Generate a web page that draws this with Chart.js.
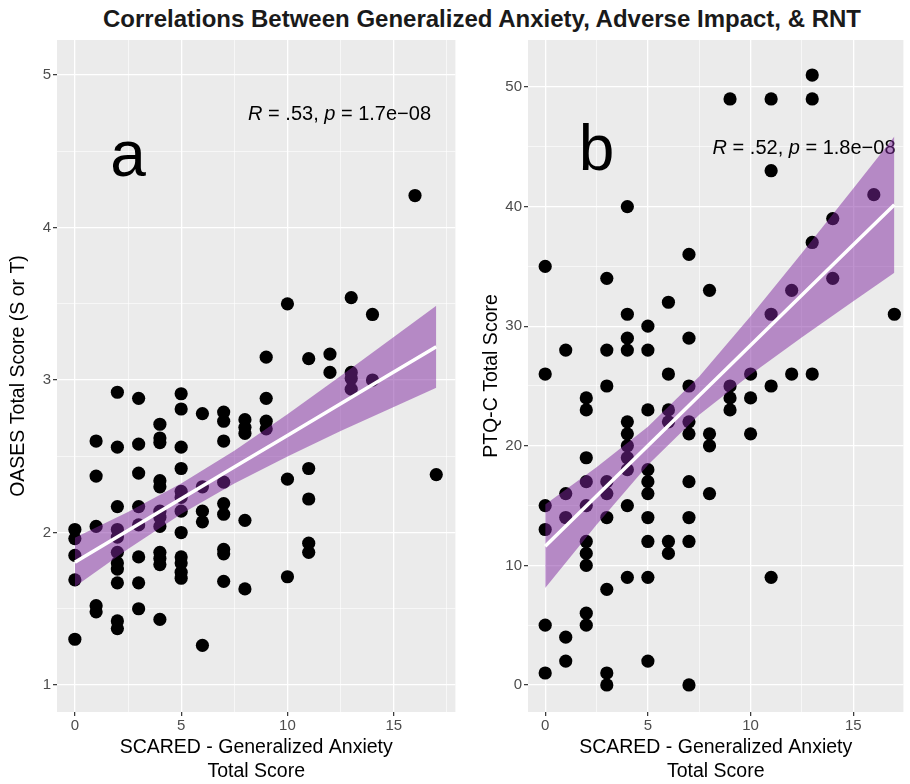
<!DOCTYPE html>
<html>
<head>
<meta charset="utf-8">
<title>Correlations Between Generalized Anxiety, Adverse Impact, & RNT</title>
<script src="https://cdn.jsdelivr.net/npm/chart.js@4.4.1/dist/chart.umd.min.js"></script>
<style>
  body {
    margin: 0;
    background: #fff;
    width: 910px;
    height: 784px;
    overflow: hidden;
    position: relative;
    font-family: "Liberation Sans", Arial, sans-serif;
  }
  #title {
    position: absolute;
    left: 0;
    top: 7px;
    width: 964px;
    text-align: center;
    font-weight: bold;
    font-size: 24px;
    line-height: 24px;
    color: #1a1a1a;
    white-space: nowrap;
  }
  .panel {
    position: absolute;
    top: 0;
    height: 784px;
  }
  #panelA { left: 0; width: 462px; }
  #panelB { left: 466px; width: 444px; }
</style>
</head>
<body>
<div id="title">Correlations Between Generalized Anxiety, Adverse Impact, &amp; RNT</div>
<div class="panel" id="panelA"><canvas id="chartA" width="462" height="784"></canvas></div>
<div class="panel" id="panelB"><canvas id="chartB" width="444" height="784"></canvas></div>

<script>
// SCARED generalized anxiety scores (x columns), shared by both panels
const anxietyScores = [0, 1, 2, 3, 4, 5, 6, 7, 8, 9, 10, 11, 12, 13, 14, 16, 17];

// Panel a: OASES total score, one list per anxiety score
const oasesScores = [
  [2.02, 1.96, 1.85, 1.69, 1.30],
  [2.60, 2.37, 2.04, 1.52, 1.48],
  [2.92, 2.56, 2.17, 2.02, 1.97, 1.87, 1.80, 1.76, 1.67, 1.42, 1.37],
  [2.88, 2.58, 2.39, 2.17, 2.05, 1.84, 1.67, 1.50],
  [2.71, 2.62, 2.59, 2.34, 2.30, 2.14, 2.10, 2.04, 1.87, 1.83, 1.79, 1.43],
  [2.91, 2.81, 2.56, 2.42, 2.27, 2.23, 2.14, 2.00, 1.84, 1.80, 1.74, 1.70],
  [2.78, 2.30, 2.14, 2.07, 1.26],
  [2.79, 2.73, 2.60, 2.33, 2.19, 2.12, 1.89, 1.86, 1.68],
  [2.74, 2.69, 2.65, 2.08, 1.63],
  [3.15, 2.88, 2.73, 2.68],
  [3.50, 2.35, 1.71],
  [3.14, 2.42, 2.22, 1.93, 1.87],
  [3.17, 3.05],
  [3.54, 3.05, 3.01, 2.94],
  [3.43, 3.00],
  [4.21],
  [2.38],
];

// Panel b: PTQ-C total score, one list per anxiety score
const ptqScores = [
  [35, 26, 15, 13, 5, 1],
  [28, 16, 14, 4, 2],
  [24, 23, 19, 17, 15, 12, 11, 10, 6, 5],
  [34, 28, 25, 17, 16, 14, 8, 1, 0],
  [40, 31, 29, 28, 22, 21, 20, 19, 18, 15, 9],
  [30, 28, 23, 18, 17, 16, 14, 12, 9, 2],
  [32, 26, 23, 22, 12, 11],
  [36, 29, 25, 22, 21, 17, 14, 12, 0],
  [33, 21, 20, 16],
  [49, 25, 24, 23],
  [26, 24, 21],
  [49, 43, 31, 25, 9],
  [33, 26],
  [51, 49, 37, 26],
  [39, 34],
  [41],
  [31],
];

// Fitted line and confidence band
const fitX = [0, 2.5, 5, 7.5, 10, 12.5, 15, 17];
const fitA = [1.805, 2.013, 2.221, 2.429, 2.637, 2.845, 3.053, 3.219];
const upperA = [1.965, 2.135, 2.321, 2.536, 2.775, 3.026, 3.282, 3.488];
const lowerA = [1.645, 1.892, 2.121, 2.322, 2.499, 2.665, 2.824, 2.95];
const fitB = [11.6, 15.8, 20.0, 24.2, 28.4, 32.6, 36.8, 40.16];
const upperB = [15.1, 18.2, 21.6, 25.8, 30.83, 36.13, 41.52, 45.86];
const lowerB = [8.1, 13.4, 18.4, 22.6, 25.97, 29.07, 32.08, 34.46];

// Axis ticks
const xMajorTicks = [0, 5, 10, 15];
const xMinorTicks = [2.5, 7.5, 12.5, 17.5];
const yMajorTicksA = [1, 2, 3, 4, 5];
const yMinorTicksA = [1.5, 2.5, 3.5, 4.5];
const yMajorTicksB = [0, 10, 20, 30, 40, 50];
const yMinorTicksB = [5, 15, 25, 35, 45];

// Stats labels
const statsA = ["R", " = .53, ", "p", " = 1.7e\u221208"];
const statsB = ["R", " = .52, ", "p", " = 1.8e\u221208"];

const FONT = "'Liberation Sans', Arial, sans-serif";
const RIBBON = "rgba(128, 40, 160, 0.5)";

// Build scatter points from the per-score lists
function buildPoints(values) {
  const pts = [];
  anxietyScores.forEach((score, i) => {
    values[i].forEach((v) => pts.push({ x: score, y: v }));
  });
  return pts;
}

function toXY(xs, ys) {
  return xs.map((x, i) => ({ x: x, y: ys[i] }));
}

// Grey panel background like ggplot
const panelBackground = {
  id: "panelBackground",
  beforeDraw(chart) {
    const { ctx, chartArea } = chart;
    ctx.save();
    ctx.fillStyle = "#EBEBEB";
    ctx.fillRect(chartArea.left, chartArea.top, chartArea.width, chartArea.height);
    ctx.restore();
  },
};

// Panel letter and correlation text (drawn under the ribbon)
const panelText = {
  id: "panelText",
  beforeDatasetsDraw(chart, args, opts) {
    const { ctx, scales } = chart;
    ctx.save();
    ctx.beginPath();
    ctx.rect(chart.chartArea.left, chart.chartArea.top, chart.chartArea.width, chart.chartArea.height);
    ctx.clip();
    ctx.fillStyle = "#000";
    ctx.textBaseline = "alphabetic";

    // big letter
    ctx.font = "64px " + FONT;
    ctx.textAlign = "center";
    ctx.fillText(opts.letter, scales.x.getPixelForValue(opts.letterX), scales.y.getPixelForValue(opts.letterY));

    // R = ..., p = ...
    ctx.textAlign = "left";
    let x = scales.x.getPixelForValue(opts.statsX);
    const y = scales.y.getPixelForValue(opts.statsY);
    opts.stats.forEach((part, i) => {
      ctx.font = (i % 2 === 0 ? "italic " : "") + "20px " + FONT;
      ctx.fillText(part, x, y);
      x += ctx.measureText(part).width;
    });
    ctx.restore();
  },
};

function makePanel(canvasId, cfg) {
  const isMajorX = (v) => xMajorTicks.includes(v);
  const isMajorY = (v) => cfg.yMajor.includes(v);

  return new Chart(document.getElementById(canvasId), {
    type: "scatter",
    data: {
      datasets: [
        {
          // regression line
          data: toXY(fitX, cfg.fit),
          showLine: true,
          borderColor: "#fff",
          borderWidth: 3.5,
          pointRadius: 0,
          fill: false,
          order: 0,
        },
        {
          // confidence band upper edge, filled down to the lower edge
          data: toXY(fitX, cfg.upper),
          showLine: true,
          borderColor: "transparent",
          borderWidth: 0,
          pointRadius: 0,
          backgroundColor: RIBBON,
          fill: "+1",
          order: 1,
        },
        {
          data: toXY(fitX, cfg.lower),
          showLine: true,
          borderColor: "transparent",
          borderWidth: 0,
          pointRadius: 0,
          fill: false,
          order: 1,
        },
        {
          data: buildPoints(cfg.values),
          backgroundColor: "#000",
          borderWidth: 0,
          pointRadius: 6.6,
          pointHoverRadius: 6.6,
          order: 2,
        },
      ],
    },
    options: {
      responsive: false,
      animation: false,
      events: [],
      layout: { padding: { top: 40, right: cfg.padRight, bottom: 0, left: 0 } },
      plugins: {
        legend: { display: false },
        tooltip: { enabled: false },
        panelText: cfg.text,
      },
      scales: {
        x: {
          type: "linear",
          min: cfg.xMin,
          max: cfg.xMax,
          afterBuildTicks: (scale) => {
            scale.ticks = xMajorTicks
              .concat(xMinorTicks)
              .filter((v) => v <= cfg.xMax)
              .sort((a, b) => a - b)
              .map((v) => ({ value: v }));
          },
          afterFit: (scale) => {
            scale.height = 72;
          },
          border: { display: false },
          grid: {
            color: "#fff",
            lineWidth: (ctx) => (ctx.tick && isMajorX(ctx.tick.value) ? 1.3 : 0.6),
            tickColor: (ctx) => (ctx.tick && isMajorX(ctx.tick.value) ? "#333" : "rgba(0,0,0,0)"),
            tickLength: 4,
            tickWidth: 1.2,
          },
          ticks: {
            autoSkip: false,
            maxRotation: 0,
            padding: 1,
            color: "#4D4D4D",
            font: { family: FONT, size: 15 },
            callback: (v) => (isMajorX(v) ? String(v) : ""),
          },
          title: {
            display: true,
            text: ["SCARED - Generalized Anxiety", "Total Score"],
            color: "#000",
            font: { family: FONT, size: 19.5, lineHeight: 1.25 },
            padding: { top: 0, bottom: 0 },
          },
        },
        y: {
          type: "linear",
          min: cfg.yMin,
          max: cfg.yMax,
          afterBuildTicks: (scale) => {
            scale.ticks = cfg.yMajor
              .concat(cfg.yMinor)
              .sort((a, b) => a - b)
              .map((v) => ({ value: v }));
          },
          afterFit: (scale) => {
            scale.width = cfg.yWidth;
          },
          border: { display: false },
          grid: {
            color: "#fff",
            lineWidth: (ctx) => (ctx.tick && isMajorY(ctx.tick.value) ? 1.3 : 0.6),
            tickColor: (ctx) => (ctx.tick && isMajorY(ctx.tick.value) ? "#333" : "rgba(0,0,0,0)"),
            tickLength: 4,
            tickWidth: 1.2,
          },
          ticks: {
            autoSkip: false,
            padding: 2,
            color: "#4D4D4D",
            font: { family: FONT, size: 15 },
            callback: (v) => (isMajorY(v) ? String(v) : ""),
          },
          title: {
            display: true,
            text: cfg.yTitle,
            color: "#000",
            font: { family: FONT, size: 19.5 },
            padding: { top: cfg.yTitlePad, bottom: 0 },
          },
        },
      },
    },
    plugins: [panelBackground, panelText],
  });
}

document.addEventListener("DOMContentLoaded", function () {
  makePanel("chartA", {
    values: oasesScores,
    fit: fitA,
    upper: upperA,
    lower: lowerA,
    xMin: -0.84,
    xMax: 17.9,
    yMin: 0.823,
    yMax: 5.23,
    yMajor: yMajorTicksA,
    yMinor: yMinorTicksA,
    yWidth: 57,
    yTitle: "OASES Total Score (S or T)",
    yTitlePad: 7,
    padRight: 4,
    text: { letter: "a", letterX: 2.5, letterY: 4.34, stats: statsA, statsX: 8.15, statsY: 4.705 },
  });

  makePanel("chartB", {
    values: ptqScores,
    fit: fitB,
    upper: upperB,
    lower: lowerB,
    xMin: -0.837,
    xMax: 17.44,
    yMin: -2.26,
    yMax: 53.93,
    yMajor: yMajorTicksB,
    yMinor: yMinorTicksB,
    yWidth: 62,
    yTitle: "PTQ-C Total Score",
    yTitlePad: 13.5,
    padRight: 0,
    text: { letter: "b", letterX: 2.5, letterY: 43.06, stats: statsB, statsX: 8.15, statsY: 44.4 },
  });
});
</script>
</body>
</html>
